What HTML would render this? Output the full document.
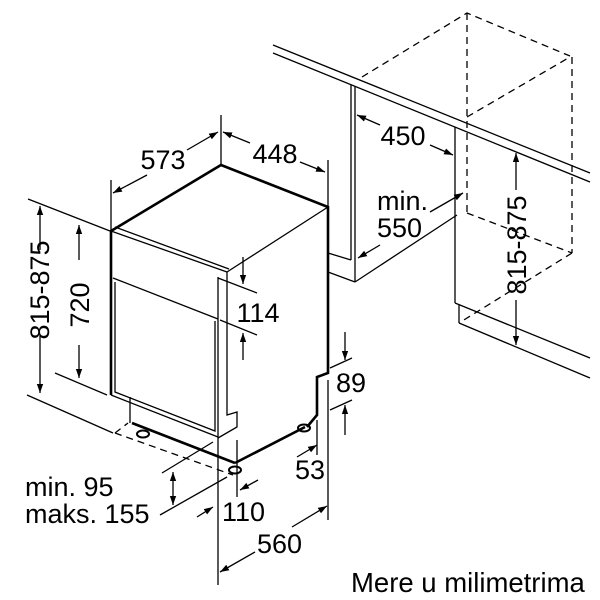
<!DOCTYPE html>
<html><head><meta charset="utf-8"><style>
html,body{margin:0;padding:0;background:#fff;}
svg{display:block;}
text{font-family:"Liberation Sans",sans-serif;fill:#000;}
</style></head><body>
<svg width="600" height="600" viewBox="0 0 600 600" xmlns="http://www.w3.org/2000/svg">
<defs>
<marker id="a" viewBox="0 0 10 10" refX="10" refY="5" markerWidth="9" markerHeight="9" orient="auto-start-reverse" markerUnits="userSpaceOnUse"><path d="M0,1.5 L10,5 L0,8.5 Z" fill="#000"/></marker>
</defs>
<g stroke="#000" fill="none" stroke-width="1.3">
<line x1="273" y1="45" x2="590" y2="173"/>
<line x1="273" y1="53" x2="590" y2="182"/>
<line x1="351" y1="85" x2="351" y2="260"/>
<line x1="355" y1="86" x2="355" y2="282"/>
<line x1="328" y1="253" x2="351" y2="260"/>
<line x1="328" y1="272" x2="355" y2="282"/>
<line x1="355" y1="282" x2="457" y2="215"/>
<line x1="455" y1="127" x2="455" y2="303"/>
<line x1="459" y1="305" x2="459" y2="323"/>
<line x1="455" y1="303" x2="590" y2="358"/>
<line x1="459" y1="323" x2="590" y2="378"/>
<g stroke-dasharray="7,5">
<polyline points="362,77 467,13 570,56"/>
<line x1="467" y1="13" x2="467" y2="213"/>
<line x1="572" y1="57" x2="572" y2="253"/>
<line x1="467" y1="117" x2="570" y2="57"/>
<line x1="467" y1="213" x2="572" y2="253"/>
<line x1="572" y1="253" x2="459" y2="323"/>
<line x1="115" y1="433" x2="233" y2="475"/>
<line x1="115" y1="433" x2="128" y2="423"/>
</g>
<g stroke-width="2.6">
<polyline points="111,395 111,231 221,165 328,207 328,373 317,377 317,415 307,427"/>
<line x1="132" y1="423" x2="235" y2="463"/>
<line x1="235" y1="463" x2="305" y2="427"/>
</g>
<line x1="111" y1="231" x2="227" y2="272"/>
<line x1="115" y1="227" x2="229" y2="269"/>
<line x1="227" y1="272" x2="328" y2="207"/>
<polyline points="111,395 218,437"/>
<polyline points="113,278 218,319"/>
<polyline points="115,282 115,392 215,431 215,321" />
<line x1="218" y1="277" x2="218" y2="437"/>
<polyline points="227,272 227,415 237,412 237,427 218,438"/>
<polyline points="130,397 130,423"/>
<ellipse cx="143" cy="434" rx="6" ry="3.5" stroke-width="2"/>
<ellipse cx="235" cy="470" rx="6" ry="3.5" stroke-width="2"/>
<ellipse cx="304" cy="428" rx="6" ry="3.5" stroke-width="2"/>
<line x1="28" y1="199" x2="110" y2="231"/>
<line x1="27" y1="395" x2="113" y2="433"/>
<line x1="55" y1="373" x2="107" y2="395"/>
<line x1="111" y1="180" x2="111" y2="231"/>
<line x1="221" y1="115" x2="221" y2="165"/>
<line x1="328" y1="160" x2="328" y2="207"/>
<line x1="218" y1="278" x2="257" y2="293"/>
<line x1="220" y1="320" x2="257" y2="335"/>
<line x1="218" y1="437" x2="218" y2="585"/>
<line x1="237" y1="440" x2="237" y2="497"/>
<line x1="328" y1="380" x2="328" y2="520"/>
<line x1="317" y1="420" x2="317" y2="455"/>
<line x1="160" y1="515" x2="227" y2="477"/>
<line x1="162" y1="473" x2="213" y2="442"/>
<line x1="330" y1="368" x2="352" y2="358"/>
<line x1="330" y1="410" x2="352" y2="400"/>
<line x1="40" y1="250" x2="40" y2="206" marker-end="url(#a)"/>
<line x1="40" y1="335" x2="40" y2="393" marker-end="url(#a)"/>
<line x1="79" y1="260" x2="79" y2="225" marker-end="url(#a)"/>
<line x1="79" y1="345" x2="79" y2="378" marker-end="url(#a)"/>
<line x1="147" y1="175" x2="113" y2="193" marker-end="url(#a)"/>
<line x1="187" y1="150" x2="218" y2="132" marker-end="url(#a)"/>
<line x1="250" y1="143" x2="223" y2="132" marker-end="url(#a)"/>
<line x1="300" y1="162" x2="325" y2="172" marker-end="url(#a)"/>
<line x1="243" y1="257" x2="243" y2="284" marker-end="url(#a)"/>
<line x1="243" y1="360" x2="243" y2="333" marker-end="url(#a)"/>
<line x1="380" y1="125" x2="357" y2="115" marker-end="url(#a)"/>
<line x1="430" y1="145" x2="453" y2="155" marker-end="url(#a)"/>
<line x1="430" y1="212" x2="463" y2="193" marker-end="url(#a)"/>
<line x1="380" y1="245" x2="358" y2="258" marker-end="url(#a)"/>
<line x1="516" y1="190" x2="516" y2="153" marker-end="url(#a)"/>
<line x1="516" y1="300" x2="516" y2="345" marker-end="url(#a)"/>
<line x1="345" y1="332" x2="345" y2="360" marker-end="url(#a)"/>
<line x1="345" y1="435" x2="345" y2="405" marker-end="url(#a)"/>
<line x1="173" y1="489" x2="173" y2="472" marker-end="url(#a)"/>
<line x1="173" y1="489" x2="173" y2="505" marker-end="url(#a)"/>
<line x1="197" y1="517" x2="213" y2="507" marker-end="url(#a)"/>
<line x1="258" y1="480" x2="240" y2="490" marker-end="url(#a)"/>
<line x1="297" y1="457" x2="317" y2="445" marker-end="url(#a)"/>
<line x1="255" y1="552" x2="220" y2="572" marker-end="url(#a)"/>
<line x1="292" y1="527" x2="327" y2="506" marker-end="url(#a)"/>
</g>
<g font-size="27">
<text x="163" y="169" text-anchor="middle">573</text>
<text x="275" y="163" text-anchor="middle">448</text>
<text x="258" y="322" text-anchor="middle">114</text>
<text x="403" y="145" text-anchor="middle">450</text>
<text x="377" y="210">min.</text>
<text x="377" y="237">550</text>
<text x="336" y="392">89</text>
<text x="295" y="479">53</text>
<text x="25" y="496">min. 95</text>
<text x="25" y="523">maks. 155</text>
<text x="222" y="521">110</text>
<text x="257" y="553">560</text>
<text transform="translate(49,290) rotate(-90)" text-anchor="middle">815-875</text>
<text transform="translate(89,305) rotate(-90)" text-anchor="middle">720</text>
<text transform="translate(526,245) rotate(-90)" text-anchor="middle">815-875</text>
</g>
<text x="351" y="592" font-size="27.5">Mere u milimetrima</text>
</svg>
</body></html>
